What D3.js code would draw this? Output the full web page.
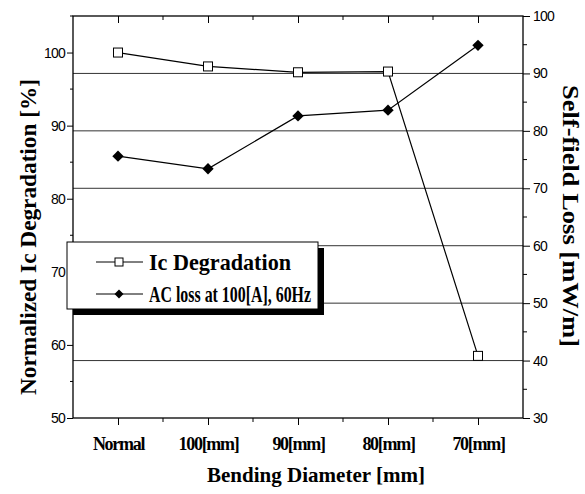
<!DOCTYPE html>
<html lang="en">
<head>
<meta charset="UTF-8">
<title>Bending Diameter</title>
<script src="https://d3js.org/d3.v7.min.js"></script>
<style>
    body { margin: 0; background: #fff; }
    .serif { font-family: "Liberation Serif", "Times New Roman", serif; font-weight: bold; fill: #000; }
    .num { font-family: "Liberation Sans", Arial, sans-serif; font-size: 14px; letter-spacing: -0.8px; fill: #000; }
</style>
</head>
<body>
<svg id="chart" width="585" height="494"></svg>
<script>
// data
const categories = ["Normal", "100[mm]", "90[mm]", "80[mm]", "70[mm]"];
const icDegradation = [100, 98.1, 97.3, 97.4, 58.5];     // left axis, %
const acLoss = [75.6, 73.4, 82.6, 83.6, 94.9];           // right axis, mW/m
const leftTicks = [50, 60, 70, 80, 90, 100];
const rightTicks = [30, 40, 50, 60, 70, 80, 90, 100];
const gridValues = [40, 50, 60, 70, 80, 90];              // on right axis

const pLeft = 73, pRight = 523, pTop = 16, pBottom = 418;
const svg = d3.select("#chart");

const x = d3.scalePoint().domain(categories).range([pLeft, pRight]).padding(0.5);
const xi = d3.scaleLinear().domain([-0.5, categories.length - 0.5]).range([pLeft, pRight]);
const yL = d3.scaleLinear().domain([50, 105]).range([pBottom, pTop]);
const yR = d3.scaleLinear().domain([30, 100]).range([pBottom, pTop]);

// grid lines
svg.append("g").selectAll("line")
    .data(gridValues).enter().append("line")
    .attr("x1", pLeft).attr("x2", pRight)
    .attr("y1", d => yR(d)).attr("y2", d => yR(d))
    .attr("stroke", "#333").attr("stroke-width", 1);

// frame
svg.append("rect")
    .attr("x", pLeft).attr("y", pTop)
    .attr("width", pRight - pLeft).attr("height", pBottom - pTop)
    .attr("fill", "none").attr("stroke", "#000").attr("stroke-width", 1.3);

const minorX = d3.range(0.5, categories.length - 1, 1);

// bottom axis
const gb = svg.append("g").attr("transform", `translate(0,${pBottom})`)
    .call(d3.axisBottom(x).tickSize(7).tickPadding(12));
gb.select(".domain").remove();
gb.selectAll("text").attr("class", "serif").style("font-size", "18px").style("letter-spacing", "-1.3px");
gb.selectAll(".minor").data(minorX).enter().append("line")
    .attr("x1", d => xi(d)).attr("x2", d => xi(d)).attr("y1", 0).attr("y2", 4).attr("stroke", "#000");

// top axis (inward ticks)
const gt = svg.append("g").attr("transform", `translate(0,${pTop})`)
    .call(d3.axisBottom(x).tickSize(7).tickFormat(""));
gt.select(".domain").remove();
gt.selectAll(".minor").data(minorX).enter().append("line")
    .attr("x1", d => xi(d)).attr("x2", d => xi(d)).attr("y1", 0).attr("y2", 4).attr("stroke", "#000");

// left axis
const gl = svg.append("g").attr("transform", `translate(${pLeft},0)`)
    .call(d3.axisLeft(yL).tickValues(leftTicks).tickSize(6).tickPadding(2));
gl.select(".domain").remove();
gl.selectAll("text").attr("class", "num");
gl.selectAll(".minor").data(leftTicks.map(d => d + 5)).enter().append("line")
    .attr("x1", 0).attr("x2", -3).attr("y1", d => yL(d)).attr("y2", d => yL(d)).attr("stroke", "#000");

// right axis
const gr = svg.append("g").attr("transform", `translate(${pRight},0)`)
    .call(d3.axisRight(yR).tickValues(rightTicks).tickSize(7).tickPadding(3));
gr.select(".domain").remove();
gr.selectAll("text").attr("class", "num");
gr.selectAll(".minor").data(rightTicks.slice(0, -1).map(d => d + 5)).enter().append("line")
    .attr("x1", 0).attr("x2", 4).attr("y1", d => yR(d)).attr("y2", d => yR(d)).attr("stroke", "#000");

// series
const icLine = d3.line().x((d, i) => x(categories[i])).y(d => yL(d));
const acLine = d3.line().x((d, i) => x(categories[i])).y(d => yR(d));
const diamond = d3.symbol().type(d3.symbolSquare).size(64);

svg.append("path").attr("d", acLine(acLoss)).attr("fill", "none").attr("stroke", "#000").attr("stroke-width", 1.2);
svg.append("path").attr("d", icLine(icDegradation)).attr("fill", "none").attr("stroke", "#000").attr("stroke-width", 1.2);

svg.selectAll(".ac").data(acLoss).enter().append("path")
    .attr("transform", (d, i) => `translate(${x(categories[i])},${yR(d)}) rotate(45)`)
    .attr("d", diamond).attr("fill", "#000");

svg.selectAll(".ic").data(icDegradation).enter().append("rect")
    .attr("x", (d, i) => x(categories[i]) - 4.5).attr("y", d => yL(d) - 4.5)
    .attr("width", 9).attr("height", 9)
    .attr("fill", "#fff").attr("stroke", "#000").attr("stroke-width", 1);

// legend with shadow
const lg = svg.append("g");
lg.append("rect").attr("x", 73).attr("y", 248).attr("width", 251).attr("height", 67).attr("fill", "#000");
lg.append("rect").attr("x", 67).attr("y", 242).attr("width", 251).attr("height", 67)
    .attr("fill", "#fff").attr("stroke", "#000").attr("stroke-width", 1);

const legendItems = [
    { label: "Ic Degradation", y: 262, marker: "square", len: 142 },
    { label: "AC loss at 100[A], 60Hz", y: 294, marker: "diamond", len: 162 }
];
legendItems.forEach(it => {
    lg.append("line").attr("x1", 96).attr("x2", 143).attr("y1", it.y).attr("y2", it.y).attr("stroke", "#000");
    if (it.marker === "square") {
        lg.append("rect").attr("x", 115).attr("y", it.y - 4).attr("width", 8).attr("height", 8)
            .attr("fill", "#fff").attr("stroke", "#000");
    } else {
        lg.append("path").attr("d", diamond).attr("fill", "#000")
            .attr("transform", `translate(119,${it.y}) rotate(45) scale(0.8)`);
    }
    lg.append("text").attr("class", "serif").attr("x", 149).attr("y", it.y + 8)
        .style("font-size", "24px")
        .attr("textLength", it.len).attr("lengthAdjust", "spacingAndGlyphs")
        .text(it.label);
});

// axis titles
svg.append("text").attr("class", "serif")
    .attr("transform", `translate(36,237) rotate(-90)`)
    .attr("text-anchor", "middle").style("font-size", "24px")
    .attr("textLength", 316).attr("lengthAdjust", "spacingAndGlyphs")
    .text("Normalized Ic Degradation [%]");

svg.append("text").attr("class", "serif")
    .attr("transform", `translate(563,216) rotate(90)`)
    .attr("text-anchor", "middle").style("font-size", "23px")
    .attr("textLength", 262).attr("lengthAdjust", "spacingAndGlyphs")
    .text("Self-field Loss [mW/m]");

svg.append("text").attr("class", "serif")
    .attr("x", 316).attr("y", 482).attr("text-anchor", "middle")
    .style("font-size", "21px")
    .attr("textLength", 218).attr("lengthAdjust", "spacingAndGlyphs")
    .text("Bending Diameter [mm]");
</script>
</body>
</html>
